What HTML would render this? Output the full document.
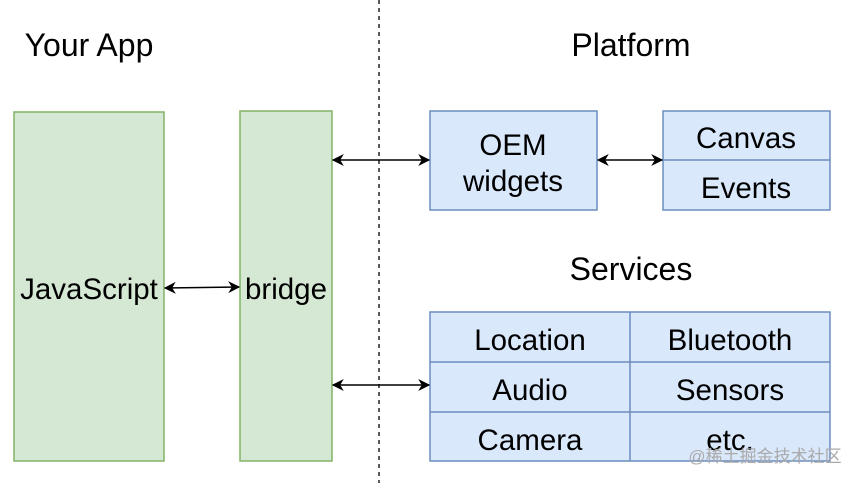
<!DOCTYPE html>
<html><head><style>
body{margin:0;background:#fff}
svg text{font-family:"Liberation Sans",Arial,sans-serif;fill:#000}
</style></head><body>
<svg width="864" height="483" viewBox="0 0 864 483" xmlns="http://www.w3.org/2000/svg">
<defs>
<marker id="a" viewBox="0 0 10 10" refX="9" refY="5" markerWidth="12" markerHeight="12" markerUnits="userSpaceOnUse" orient="auto-start-reverse">
<path d="M0,0 L10,5 L0,10 L3,5 Z" fill="#000"/></marker>
</defs>
<rect width="864" height="483" fill="#fff"/>
<line x1="379" y1="0" x2="379" y2="483" stroke="#000" stroke-width="1.3" stroke-dasharray="4,4"/>
<g font-size="32">
<text x="89" y="56" text-anchor="middle">Your App</text>
<text x="631" y="56" text-anchor="middle">Platform</text>
<text x="631" y="280" text-anchor="middle">Services</text>
</g>
<g fill="#d5e8d4" stroke="#82b366" stroke-width="1.5">
<rect x="14" y="112" width="150" height="349"/>
<rect x="240" y="111" width="92" height="350"/>
</g>
<g fill="#dae8fc" stroke="#6c8ebf" stroke-width="1.5">
<rect x="430" y="111" width="167" height="99"/>
<rect x="663" y="111" width="167" height="99"/>
<line x1="663" y1="160" x2="830" y2="160"/>
<rect x="430" y="312" width="400" height="149"/>
<line x1="630" y1="312" x2="630" y2="461"/>
<line x1="430" y1="362" x2="830" y2="362"/>
<line x1="430" y1="412" x2="830" y2="412"/>
</g>
<g font-size="29.5" text-anchor="middle">
<text x="89" y="299">JavaScript</text>
<text x="286" y="299">bridge</text>
<text x="513" y="155">OEM</text>
<text x="513" y="191">widgets</text>
<text x="746" y="148">Canvas</text>
<text x="746" y="198">Events</text>
<text x="530" y="350">Location</text>
<text x="730" y="350">Bluetooth</text>
<text x="530" y="400">Audio</text>
<text x="730" y="400">Sensors</text>
<text x="530" y="450">Camera</text>
<text x="730" y="450">etc.</text>
</g>
<g stroke="#000" stroke-width="1.5" marker-start="url(#a)" marker-end="url(#a)">
<line x1="333" y1="160" x2="429" y2="160"/>
<line x1="598" y1="160" x2="662" y2="160"/>
<line x1="165" y1="288" x2="239" y2="287"/>
<line x1="333" y1="385" x2="429" y2="385"/>
</g>
<text x="765" y="462" font-size="17" style="fill:#aaa;font-family:'Liberation Sans','Noto Sans CJK SC',sans-serif" text-anchor="middle">@稀土掘金技术社区</text>
</svg>
</body></html>
